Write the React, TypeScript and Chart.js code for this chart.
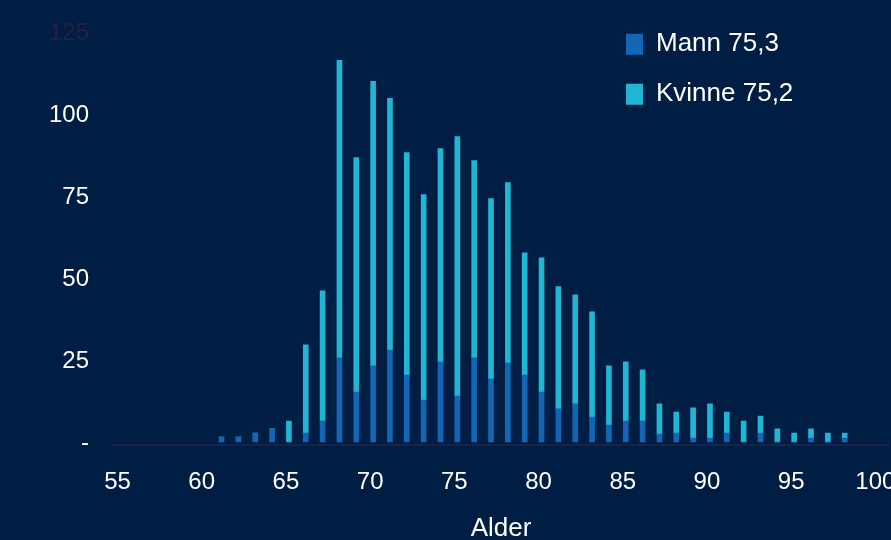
import React, { useEffect, useRef } from 'react';
import { Chart, registerables } from 'chart.js';

Chart.register(...registerables);

// Age (x) of each bar
const ages = [61, 62, 63, 64, 65, 66, 67, 68, 69, 70, 71, 72, 73, 74, 75, 76, 77, 78, 79, 80, 81, 82, 83, 84, 85, 86, 87, 88, 89, 90, 91, 92, 93, 94, 95, 96, 97, 98];
// Men (bottom of each stack)
const mann = [1.5, 1.5, 2.7, 4.0, 0, 2.7, 6.4, 25.6, 15.2, 23.2, 28.0, 20.4, 12.8, 24.4, 14.0, 25.6, 19.2, 24.1, 20.4, 15.2, 10.1, 11.6, 7.6, 5.2, 6.4, 6.4, 2.4, 2.7, 1.2, 1.2, 2.7, 0, 2.7, 0, 0, 1.2, 0, 1.2];
// Women (top of each stack)
const kvinne = [0, 0, 0, 0, 6.4, 26.9, 39.6, 90.6, 71.4, 86.6, 76.6, 67.7, 62.5, 64.9, 79.0, 60.1, 54.9, 54.9, 37.2, 40.9, 37.2, 33.2, 32.0, 18.0, 18.0, 15.6, 9.2, 6.4, 9.2, 10.4, 6.4, 6.4, 5.2, 4.0, 2.7, 2.8, 2.7, 1.5];

const seriesLabels = ['Mann 75,3', 'Kvinne 75,2'];
const xTicks = [55, 60, 65, 70, 75, 80, 85, 90, 95, 100];
const yTicks = [0, 25, 50, 75, 100, 125];
const xTitle = 'Alder';

const FONT = "'Liberation Sans', Arial, sans-serif";
const BG = '#001e44';
const C_MANN = '#1266b3';
const C_KVINNE = '#21b5d4';

export default function App() {
  const ref = useRef<HTMLCanvasElement>(null);

  useEffect(() => {
    const canvas = ref.current;
    if (!canvas) return;

    const legendPlacer = {
      id: 'legendPlacer',
      afterLayout(chart: any) {
        const lg = chart.legend;
        if (!lg) return;
        lg.left = 602;
        lg.top = 7.2;
      },
    };

    const chart = new Chart(canvas, {
      type: 'bar',
      data: {
        datasets: [
          {
            label: seriesLabels[0],
            data: ages.map((a, i) => ({ x: a, y: mann[i] })),
            backgroundColor: C_MANN,
            borderWidth: 0,
            barThickness: 5,
          },
          {
            label: seriesLabels[1],
            data: ages.map((a, i) => ({ x: a, y: kvinne[i] })),
            backgroundColor: C_KVINNE,
            borderWidth: 0,
            barThickness: 5,
          },
        ],
      },
      options: {
        responsive: false,
        animation: false,
        devicePixelRatio: 1,
        layout: { padding: { left: 0, right: 2, top: 31.4, bottom: 0 } },
        plugins: {
          legend: {
            position: 'chartArea',
            align: 'start',
            labels: {
              color: '#ffffff',
              font: { family: FONT, size: 26 },
              boxWidth: 17,
              boxHeight: 21,
              padding: 24,
            },
          },
          tooltip: { enabled: false },
        },
        scales: {
          x: {
            type: 'linear',
            stacked: true,
            offset: false,
            min: 54.555,
            max: 100.63,
            grid: { display: false, drawTicks: false },
            border: { display: true, color: '#1e2146', width: 2 },
            ticks: {
              color: '#ffffff',
              font: { family: FONT, size: 24 },
              padding: 23,
              labelOffset: -3,
              maxRotation: 0,
              autoSkip: false,
            },
            afterBuildTicks: (s: any) => {
              s.ticks = xTicks.map((v) => ({ value: v }));
            },
            afterFit: (s: any) => {
              s.height = 95;
              s.paddingRight = 0;
            },
            title: {
              display: true,
              text: xTitle,
              color: '#ffffff',
              font: { family: FONT, size: 26, lineHeight: 0.84 },
              padding: 0,
            },
          },
          y: {
            stacked: true,
            min: -0.9,
            max: 125,
            grid: { display: false, drawTicks: false },
            border: { display: false },
            ticks: {
              color: (c: any) => (c.tick && c.tick.value === 125 ? '#25213f' : '#ffffff'),
              font: { family: FONT, size: 24 },
              padding: 24,
              labelOffset: 1.5,
              callback: (v: any) => (v === 0 ? '-' : String(v)),
            },
            afterBuildTicks: (s: any) => {
              s.ticks = yTicks.map((v) => ({ value: v }));
            },
            afterFit: (s: any) => {
              s.width = 113;
              s.paddingTop = 0;
              s.paddingBottom = 0;
            },
          },
        },
      } as any,
      plugins: [legendPlacer],
    });

    return () => chart.destroy();
  }, []);

  return (
    <div
      style={{
        position: 'fixed',
        left: 0,
        top: 0,
        width: 891,
        height: 540,
        background: BG,
        overflow: 'hidden',
      }}
    >
      <canvas ref={ref} width={891} height={540} style={{ display: 'block' }} />
    </div>
  );
}
